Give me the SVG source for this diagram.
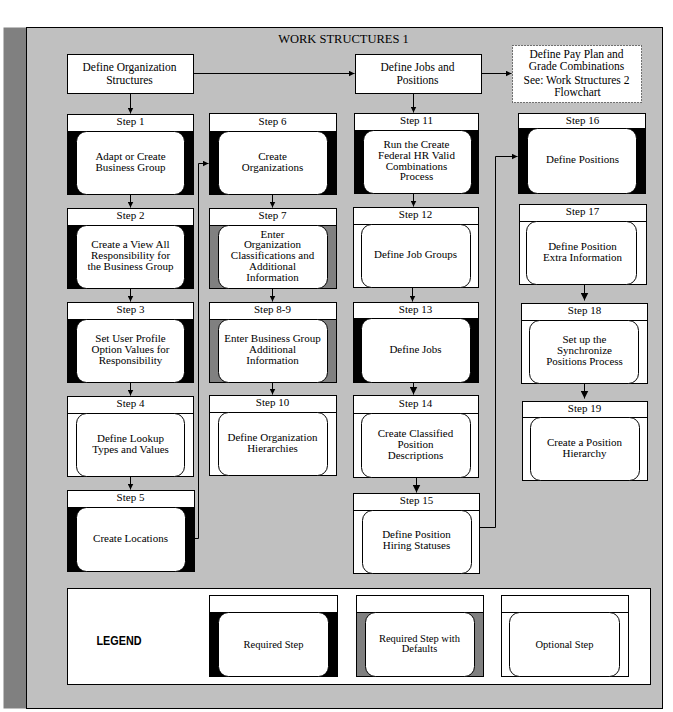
<svg xmlns="http://www.w3.org/2000/svg" width="673" height="712" viewBox="0 0 673 712">
<style>
text{font-family:"Liberation Serif","Times New Roman",serif;font-size:11px;fill:#000;text-anchor:middle}
.big{font-size:11.5px}
.title{font-size:12.5px}
.lg{font-size:10.5px}
.legend{font-family:"Liberation Sans",Arial,sans-serif;font-weight:bold;font-size:13px;text-anchor:start}
.hdr{fill:#fff;stroke:#000;stroke-width:1}
.req{fill:#000;stroke:#000;stroke-width:1}
.def{fill:#808080;stroke:#000;stroke-width:1}
.opt{fill:#fff;stroke:#000;stroke-width:1}
.inner{fill:#fff;stroke:#000;stroke-width:1}
.plain{fill:#fff;stroke:#000;stroke-width:1}
.dotted{fill:#fff;stroke:#000;stroke-width:1;stroke-dasharray:1 2}
.conn path{fill:none;stroke:#000;stroke-width:1}
</style>
<defs>
<marker id="ah" markerWidth="6" markerHeight="6" refX="6" refY="3" orient="auto" markerUnits="userSpaceOnUse"><path d="M0,0 L6,3 L0,6 z" fill="#000"/></marker>
<marker id="ahb" markerWidth="8" markerHeight="8" refX="8" refY="4" orient="auto" markerUnits="userSpaceOnUse"><path d="M0,0 L8,4 L0,8 z" fill="#000"/></marker>
</defs>
<rect x="0" y="0" width="673" height="712" fill="#fff"/>
<g transform="translate(0.5,0.5)">
<rect x="3" y="27" width="23" height="681" fill="#808080"/>
<rect x="26" y="27" width="636" height="681" fill="#c0c0c0" stroke="#000"/>
<text class="title" x="343" y="42">WORK STRUCTURES 1</text>

<g id="define-org">
<rect class="plain" x="67" y="54" width="126" height="39"/>
<text class="big" x="129" y="70">Define Organization</text>
<text class="big" x="129" y="83.5">Structures</text>
</g>
<g id="define-jobs">
<rect class="plain" x="355" y="54" width="126" height="39"/>
<text class="big" x="417" y="70">Define Jobs and</text>
<text class="big" x="417" y="83.5">Positions</text>
</g>
<g id="pay-plan">
<rect class="dotted" x="512" y="45" width="129" height="57"/>
<text class="big" x="576" y="57">Define Pay Plan and</text>
<text class="big" x="576" y="69.5">Grade Combinations</text>
<text class="big" x="576" y="83">See: Work Structures 2</text>
<text class="big" x="577" y="95.5">Flowchart</text>
</g>

<!-- Column 1 -->
<g id="step1">
<rect class="hdr" x="67" y="114" width="126" height="17"/><text x="130" y="124.5">Step 1</text>
<rect class="req" x="67" y="131" width="126" height="63"/>
<rect class="inner" x="76" y="131" width="108" height="63" rx="10"/>
<text x="130" y="159.5">Adapt or Create</text><text x="130" y="170.5">Business Group</text>
</g>
<g id="step2">
<rect class="hdr" x="67" y="208" width="126" height="17"/><text x="130" y="218.5">Step 2</text>
<rect class="req" x="67" y="225" width="126" height="63"/>
<rect class="inner" x="76" y="225" width="108" height="63" rx="10"/>
<text x="130" y="247.9">Create a View All</text><text x="130" y="258.7">Responsibility for</text><text x="130" y="269.5">the Business Group</text>
</g>
<g id="step3">
<rect class="hdr" x="67" y="302" width="126" height="17"/><text x="130" y="312.5">Step 3</text>
<rect class="req" x="67" y="319" width="126" height="63"/>
<rect class="inner" x="76" y="319" width="108" height="63" rx="10"/>
<text x="130" y="341.9">Set User Profile</text><text x="130" y="352.7">Option Values for</text><text x="130" y="363.5">Responsibility</text>
</g>
<g id="step4">
<rect class="hdr" x="67" y="396" width="126" height="17"/><text x="130" y="406.5">Step 4</text>
<rect class="opt" x="67" y="413" width="126" height="63"/>
<rect class="inner" x="76" y="413" width="108" height="63" rx="10"/>
<text x="130" y="441.3">Define Lookup</text><text x="130" y="452.1">Types and Values</text>
</g>
<g id="step5">
<rect class="hdr" x="67" y="490" width="127" height="17"/><text x="130" y="500.5">Step 5</text>
<rect class="req" x="67" y="507" width="127" height="64"/>
<rect class="inner" x="76" y="507" width="109" height="64" rx="10"/>
<text x="130" y="541">Create Locations</text>
</g>

<!-- Column 2 -->
<g id="step6">
<rect class="hdr" x="209" y="113" width="127" height="18"/><text x="272" y="124">Step 6</text>
<rect class="req" x="209" y="131" width="127" height="63"/>
<rect class="inner" x="218" y="131" width="109" height="63" rx="10"/>
<text x="272" y="159.5">Create</text><text x="272" y="170.5">Organizations</text>
</g>
<g id="step7">
<rect class="hdr" x="209" y="208" width="127" height="17"/><text x="272" y="218.5">Step 7</text>
<rect class="def" x="209" y="225" width="127" height="63"/>
<rect class="inner" x="218" y="225" width="109" height="63" rx="10"/>
<text x="272" y="237.1">Enter</text><text x="272" y="247.9">Organization</text><text x="272" y="258.7">Classifications and</text><text x="272" y="269.5">Additional</text><text x="272" y="280.3">Information</text>
</g>
<g id="step8-9">
<rect class="hdr" x="209" y="302" width="127" height="17"/><text x="272" y="312.5">Step 8-9</text>
<rect class="def" x="209" y="319" width="127" height="63"/>
<rect class="inner" x="218" y="319" width="109" height="63" rx="10"/>
<text x="272" y="341.9">Enter Business Group</text><text x="272" y="352.7">Additional</text><text x="272" y="363.5">Information</text>
</g>
<g id="step10">
<rect class="hdr" x="209" y="395" width="127" height="17"/><text x="272" y="405.5">Step 10</text>
<rect class="opt" x="209" y="412" width="127" height="63"/>
<rect class="inner" x="218" y="412" width="109" height="63" rx="10"/>
<text x="272" y="440.3">Define Organization</text><text x="272" y="451.1">Hierarchies</text>
</g>

<!-- Column 3 -->
<g id="step11">
<rect class="hdr" x="354" y="113" width="124" height="17"/><text x="416" y="123.5">Step 11</text>
<rect class="req" x="354" y="130" width="124" height="63"/>
<rect class="inner" x="363" y="130" width="108" height="63" rx="10"/>
<text x="416" y="147.5">Run the Create</text><text x="416" y="158.3">Federal HR Valid</text><text x="416" y="169.1">Combinations</text><text x="416" y="179.9">Process</text>
</g>
<g id="step12">
<rect class="hdr" x="353" y="207" width="125" height="17"/><text x="415" y="217.5">Step 12</text>
<rect class="opt" x="353" y="224" width="125" height="63"/>
<rect class="inner" x="361" y="224" width="109" height="63" rx="10"/>
<text x="415" y="257.5">Define Job Groups</text>
</g>
<g id="step13">
<rect class="hdr" x="353" y="302" width="125" height="16"/><text x="415" y="312">Step 13</text>
<rect class="req" x="353" y="318" width="125" height="64"/>
<rect class="inner" x="361" y="318" width="109" height="64" rx="10"/>
<text x="415" y="352">Define Jobs</text>
</g>
<g id="step14">
<rect class="hdr" x="353" y="395" width="125" height="18"/><text x="415" y="406">Step 14</text>
<rect class="opt" x="353" y="413" width="125" height="64"/>
<rect class="inner" x="361" y="413" width="109" height="64" rx="10"/>
<text x="415" y="436.4">Create Classified</text><text x="415" y="447.2">Position</text><text x="415" y="458">Descriptions</text>
</g>
<g id="step15">
<rect class="hdr" x="353" y="493" width="126" height="17"/><text x="416" y="503.5">Step 15</text>
<rect class="opt" x="353" y="510" width="126" height="63"/>
<rect class="inner" x="362" y="510" width="109" height="63" rx="10"/>
<text x="416" y="537.5">Define Position</text><text x="416" y="548.3">Hiring Statuses</text>
</g>

<!-- Column 4 -->
<g id="step16">
<rect class="hdr" x="518" y="113" width="127" height="15"/><text x="582" y="123">Step 16</text>
<rect class="req" x="518" y="128" width="127" height="65"/>
<rect class="inner" x="527" y="128" width="109" height="65" rx="10"/>
<text x="582" y="162">Define Positions</text>
</g>
<g id="step17">
<rect class="hdr" x="519" y="204" width="127" height="17"/><text x="582" y="214.5">Step 17</text>
<rect class="opt" x="519" y="221" width="127" height="63"/>
<rect class="inner" x="526" y="221" width="110" height="63" rx="10"/>
<text x="582" y="249.3">Define Position</text><text x="582" y="260.1">Extra Information</text>
</g>
<g id="step18">
<rect class="hdr" x="521" y="303" width="126" height="17"/><text x="584" y="313.5">Step 18</text>
<rect class="opt" x="521" y="320" width="126" height="63"/>
<rect class="inner" x="529" y="320" width="109" height="63" rx="10"/>
<text x="584" y="342.9">Set up the</text><text x="584" y="353.7">Synchronize</text><text x="584" y="364.5">Positions Process</text>
</g>
<g id="step19">
<rect class="hdr" x="522" y="401" width="125" height="16"/><text x="584" y="411">Step 19</text>
<rect class="opt" x="522" y="417" width="125" height="63"/>
<rect class="inner" x="530" y="417" width="109" height="63" rx="10"/>
<text x="584" y="445.3">Create a Position</text><text x="584" y="456.1">Hierarchy</text>
</g>

<!-- Connectors -->
<g id="connectors" class="conn">
<path d="M193,73 H354" marker-end="url(#ah)"/>
<path d="M481,73 H511" marker-end="url(#ah)"/>
<path d="M130,93 V113" marker-end="url(#ah)"/>
<path d="M413,93 V112" marker-end="url(#ah)"/>
<path d="M130,194 V207" marker-end="url(#ah)"/>
<path d="M130,288 V301" marker-end="url(#ah)"/>
<path d="M130,382 V395" marker-end="url(#ah)"/>
<path d="M130,476 V489" marker-end="url(#ah)"/>
<path d="M194,538 H198 V163 H208" marker-end="url(#ah)"/>
<path d="M272,194 V207" marker-end="url(#ah)"/>
<path d="M272,288 V301" marker-end="url(#ah)"/>
<path d="M272,382 V394" marker-end="url(#ah)"/>
<path d="M413,193 V206" marker-end="url(#ah)"/>
<path d="M412,287 V301" marker-end="url(#ah)"/>
<path d="M413,382 V394" marker-end="url(#ahb)"/>
<path d="M416,477 V492" marker-end="url(#ahb)"/>
<path d="M479,527 H495 V156 H517" marker-end="url(#ah)"/>
<path d="M584,284 V300" marker-end="url(#ahb)"/>
<path d="M584,383 V398" marker-end="url(#ahb)"/>
</g>

<!-- Legend -->
<g id="legend">
<rect class="plain" x="67" y="588" width="583" height="96"/>
<text class="legend" x="96" y="644" textLength="45" lengthAdjust="spacingAndGlyphs">LEGEND</text>
</g>
<g id="legend-required">
<rect class="hdr" x="209" y="595" width="128" height="17"/>
<rect class="req" x="209" y="612" width="128" height="64"/>
<rect class="inner" x="218" y="612" width="110" height="64" rx="10"/>
<text class="lg" x="273" y="647">Required Step</text>
</g>
<g id="legend-defaults">
<rect class="hdr" x="356" y="595" width="127" height="17"/>
<rect class="def" x="356" y="612" width="127" height="64"/>
<rect class="inner" x="365" y="612" width="109" height="64" rx="10"/>
<text class="lg" x="419" y="641.5">Required Step with</text><text class="lg" x="419" y="651.5">Defaults</text>
</g>
<g id="legend-optional">
<rect class="hdr" x="501" y="595" width="127" height="17"/>
<rect class="opt" x="501" y="612" width="127" height="64"/>
<rect class="inner" x="509" y="612" width="110" height="64" rx="10"/>
<text class="lg" x="564" y="647">Optional Step</text>
</g>
</g>
</svg>
